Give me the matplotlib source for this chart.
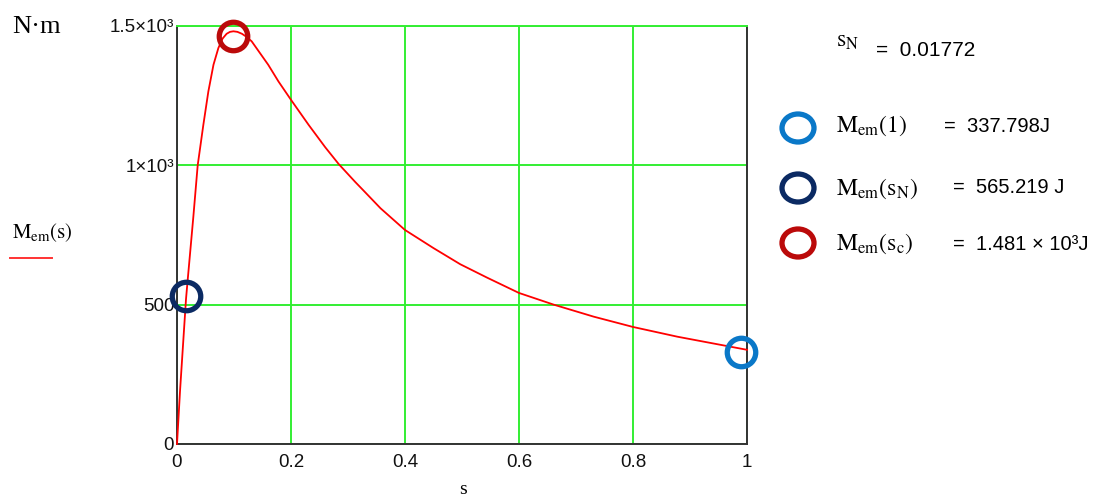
import matplotlib
matplotlib.use("Agg")
import matplotlib.pyplot as plt
from matplotlib.lines import Line2D
from matplotlib.patches import Ellipse
from matplotlib.ticker import FixedLocator, FixedFormatter

plt.rcParams['mathtext.fontset'] = 'stix'
plt.rcParams['font.family'] = ['Liberation Sans', 'DejaVu Sans']

# ---- data ----
slip = [0, 0.0053, 0.0158, 0.01772, 0.021, 0.0287, 0.0363, 0.0462, 0.055, 0.064,
        0.0726, 0.08, 0.087, 0.093, 0.099, 0.106, 0.114, 0.122, 0.131, 0.160,
        0.178, 0.2, 0.231, 0.260, 0.2835, 0.3128, 0.327, 0.357, 0.4, 0.45, 0.497,
        0.544, 0.6, 0.661, 0.731, 0.8, 0.878, 1.0]
torque = [0, 190, 520, 565, 640, 816, 1000, 1145, 1265, 1361,
          1421, 1455, 1472, 1479, 1481, 1479, 1472, 1461, 1445, 1361,
          1301, 1235, 1145, 1065, 1005, 940, 910, 846, 768, 703, 645,
          597, 542, 500, 457, 420, 385, 338]

marker_s = [0.99, 0.016, 0.098]
marker_m = [330, 532, 1465]
marker_colors = ['#0a78c8', '#0b2a63', '#bb0a0a']

x_ticks = [0, 0.2, 0.4, 0.6, 0.8, 1]
x_tick_labels = ['0', '0.2', '0.4', '0.6', '0.8', '1']
y_ticks = [0, 500, 1000, 1500]
y_tick_labels = ['0', '500', '1×10³', '1.5×10³']

W, H = 1119, 500
fig = plt.figure(figsize=(W / 100, H / 100), dpi=100)
fig.patch.set_facecolor('white')


def fx(x):
    return x / W


def fy(y):
    return 1 - y / H


ax = fig.add_axes([fx(177), fy(444), 570 / W, 418 / H])
ax.set_xlim(0, 1)
ax.set_ylim(0, 1500)

ax.plot(slip, torque, color='#ff0000', lw=1.3, zorder=3, clip_on=False)
for s, m, c in zip(marker_s, marker_m, marker_colors):
    ax.plot([s], [m], marker='o', ms=20.5, mfc='none', mec=c, mew=3.8,
            zorder=4, clip_on=False)

ax.xaxis.set_major_locator(FixedLocator(x_ticks))
ax.xaxis.set_major_formatter(FixedFormatter(x_tick_labels))
ax.yaxis.set_major_locator(FixedLocator(y_ticks))
ax.yaxis.set_major_formatter(FixedFormatter(y_tick_labels))
ax.tick_params(length=0, labelsize=13.5, pad=2, colors='#111111')
ax.tick_params(axis='x', pad=7)
ax.grid(True, color='#33ee33', lw=1.4, zorder=1)

for side in ['left', 'bottom', 'right']:
    ax.spines[side].set_color('#333333')
    ax.spines[side].set_linewidth(1.4)
ax.spines['top'].set_color('#33ee33')
ax.spines['top'].set_linewidth(1.4)

# y label and legend at left
fig.text(fx(12), fy(33), 'N·m', family='Liberation Serif', fontsize=19,
         ha='left', va='baseline')
fig.text(fx(12), fy(238), r'$\mathrm{M_{em}\left(s\right)}$', fontsize=15,
         ha='left', va='baseline')
fig.add_artist(Line2D([fx(10), fx(52)], [fy(257.5), fy(257.5)],
                      color='#ff3333', lw=1.4))

# x label
fig.text(fx(463), fy(490), 's', family='Liberation Serif', fontsize=14,
         ha='center', va='center')

# right side annotations
fig.text(fx(836), fy(47), r'$\mathrm{s_{N}}$', fontsize=17, ha='left', va='baseline')
fig.text(fx(876), fy(55.5), '=  0.01772', fontsize=15, ha='left', va='baseline')

fig.text(fx(836), fy(132), r'$\mathrm{M_{em}(1)}$', fontsize=17, ha='left', va='baseline')
fig.text(fx(944), fy(132), '=  337.798J', fontsize=14.5, ha='left', va='baseline')

fig.text(fx(836), fy(195), r'$\mathrm{M_{em}\left(s_{N}\right)}$', fontsize=17,
         ha='left', va='baseline')
fig.text(fx(953), fy(193), '=  565.219 J', fontsize=14.5, ha='left', va='baseline')

fig.text(fx(836), fy(250), r'$\mathrm{M_{em}\left(s_{c}\right)}$', fontsize=17,
         ha='left', va='baseline')
fig.text(fx(953), fy(250), '=  1.481 × 10³J', fontsize=14.5,
         ha='left', va='baseline')

for yc, c in zip([128, 188, 243], marker_colors):
    fig.add_artist(Ellipse((fx(798), fy(yc)), 32 / W, 28 / H, fill=False,
                           edgecolor=c, lw=3.8))

fig.savefig('out.png', dpi=100)
